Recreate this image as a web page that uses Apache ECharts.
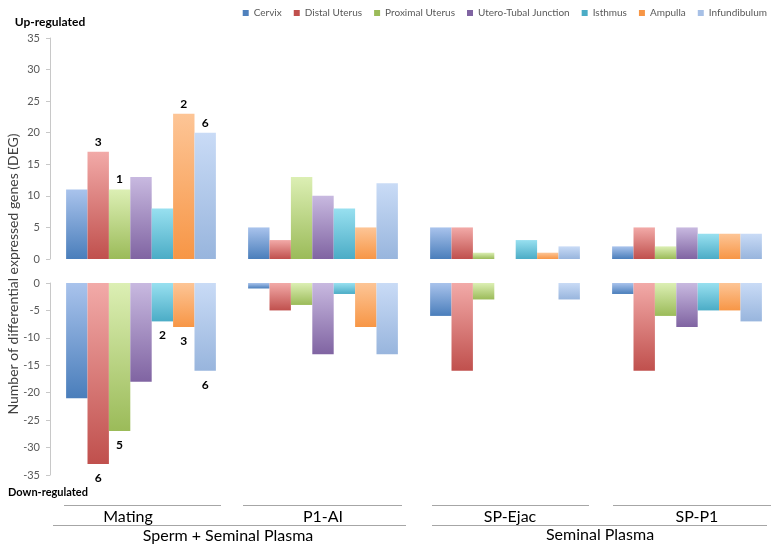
<!DOCTYPE html>
<html>
<head>
<meta charset="utf-8">
<script src="https://cdn.jsdelivr.net/npm/echarts@6/dist/echarts.min.js"></script>
<style>
    html, body { margin: 0; padding: 0; background: #fff; }
    #chart { width: 778px; height: 550px; }
</style>
</head>
<body>
<div id="chart"></div>
<script>
var groups = ["Mating", "P1-AI", "SP-Ejac", "SP-P1"];
var tissues = ["Cervix", "Distal Uterus", "Proximal Uterus", "Utero-Tubal Junction", "Isthmus", "Ampulla", "Infundibulum"];

// up-regulated, one array per tissue (values per group)
var upCervix = [11, 5, 5, 2];
var upDistal = [17, 3, 5, 5];
var upProximal = [11, 13, 1, 2];
var upUTJ = [13, 10, 0, 5];
var upIsthmus = [8, 8, 3, 4];
var upAmpulla = [23, 5, 1, 4];
var upInfund = [20, 12, 2, 4];

// down-regulated
var downCervix = [-21, -1, -6, -2];
var downDistal = [-33, -5, -16, -16];
var downProximal = [-27, -4, -3, -6];
var downUTJ = [-18, -13, 0, -8];
var downIsthmus = [-7, -2, 0, -5];
var downAmpulla = [-8, -8, 0, -5];
var downInfund = [-16, -13, -3, -7];

// numbers written next to some bars
var upNotes = [["", "", "", ""], ["3", "", "", ""], ["1", "", "", ""], ["", "", "", ""], ["", "", "", ""], ["2", "", "", ""], ["6", "", "", ""]];
var downNotes = [["", "", "", ""], ["6", "", "", ""], ["5", "", "", ""], ["", "", "", ""], ["2", "", "", ""], ["3", "", "", ""], ["6", "", "", ""]];

var upValues = [upCervix, upDistal, upProximal, upUTJ, upIsthmus, upAmpulla, upInfund];
var downValues = [downCervix, downDistal, downProximal, downUTJ, downIsthmus, downAmpulla, downInfund];

var colors = [
    ["#a9c3ec", "#4a7ebb"],
    ["#f2aaa8", "#c0504d"],
    ["#dcefb4", "#9bbb59"],
    ["#c8b9e0", "#8064a2"],
    ["#98e0f0", "#4bacc6"],
    ["#fdc596", "#f79646"],
    ["#c9dbf6", "#98b5dd"]
];
var legendColors = ["#4f81bd", "#c0504d", "#9bbb59", "#8064a2", "#4bacc6", "#f79646", "#a7c0e6"];

var FONT = "Lato";

function grad(c) {
    return {
        type: "linear", x: 0, y: 0, x2: 0, y2: 1,
        colorStops: [{offset: 0, color: c[0]}, {offset: 1, color: c[1]}]
    };
}

function buildData(values, notes, pos) {
    return values.map(function (v, j) {
        if (notes[j]) {
            return {
                value: v,
                label: {
                    show: true, position: pos, distance: pos === "top" ? 4 : 8,
                    formatter: notes[j], color: "#000", fontWeight: "bold",
                    fontSize: 12, fontFamily: FONT
                }
            };
        }
        return v;
    });
}

var series = [];
tissues.forEach(function (name, i) {
    series.push({
        name: name, type: "bar", xAxisIndex: 0, yAxisIndex: 0,
        barGap: "0%", barCategoryGap: "17.7%",
        itemStyle: {color: grad(colors[i])},
        data: buildData(upValues[i], upNotes[i], "top")
    });
});
tissues.forEach(function (name, i) {
    series.push({
        name: name, type: "bar", xAxisIndex: 1, yAxisIndex: 1,
        barGap: "0%", barCategoryGap: "17.7%",
        itemStyle: {color: grad(colors[i])},
        data: buildData(downValues[i], downNotes[i], "bottom")
    });
});

function valueAxis(gridIndex, min, max) {
    return {
        type: "value", gridIndex: gridIndex, min: min, max: max, interval: 5,
        axisLine: {show: true, lineStyle: {color: "#c8c8c8"}},
        axisTick: {show: true, length: 4, lineStyle: {color: "#c8c8c8"}},
        axisLabel: {color: "#595959", fontSize: 11, fontFamily: FONT, margin: 10},
        splitLine: {show: false}
    };
}

function catAxis(gridIndex) {
    return {
        type: "category", gridIndex: gridIndex, data: groups,
        axisLine: {show: false}, axisTick: {show: false}, axisLabel: {show: false}
    };
}

function hline(x1, x2, y) {
    return {
        type: "line", shape: {x1: x1, y1: y, x2: x2, y2: y},
        style: {stroke: "#a6a6a6", lineWidth: 1}
    };
}

function label(text, x, y, size, bold, color) {
    return {
        type: "text", x: x, y: y,
        style: {
            text: text, fill: color || "#000", fontSize: size, fontFamily: FONT,
            fontWeight: bold ? "bold" : "normal", align: "center", verticalAlign: "middle"
        }
    };
}

var option = {
    animation: false,
    backgroundColor: "#fff",
    legend: {
        right: 6, top: 3, itemWidth: 6, itemHeight: 6, itemGap: 12, icon: "rect",
        textStyle: {color: "#595959", fontSize: 10, fontFamily: FONT},
        data: tissues.map(function (t, i) {
            return {name: t, itemStyle: {color: legendColors[i]}};
        })
    },
    grid: [
        {left: 50, width: 729, top: 38, height: 221},
        {left: 50, width: 729, top: 283, height: 192}
    ],
    xAxis: [catAxis(0), catAxis(1)],
    yAxis: [valueAxis(0, 0, 35), valueAxis(1, -35, 0)],
    series: series,
    graphic: [
        label("Up-regulated", 50, 22, 12, true),
        label("Down-regulated", 48, 492, 11, true),
        {
            type: "text", x: 13, y: 274, rotation: Math.PI / 2,
            style: {
                text: "Number of differential expressed genes (DEG)", fill: "#404040",
                fontSize: 14, fontFamily: FONT, align: "center", verticalAlign: "middle"
            }
        },
        hline(64, 221, 505.5), hline(243, 402, 505.5), hline(432, 589, 505.5), hline(613, 771, 505.5),
        hline(53, 406, 525.5), hline(432, 767, 525.5),
        label(groups[0], 128, 517, 16),
        label(groups[1], 323, 517, 16),
        label(groups[2], 510, 517, 16),
        label(groups[3], 697, 517, 16),
        label("Sperm + Seminal Plasma", 228, 536, 16),
        label("Seminal Plasma", 600, 535, 16)
    ]
};

var chart = echarts.init(document.getElementById("chart"));
chart.setOption(option);
</script>
</body>
</html>
